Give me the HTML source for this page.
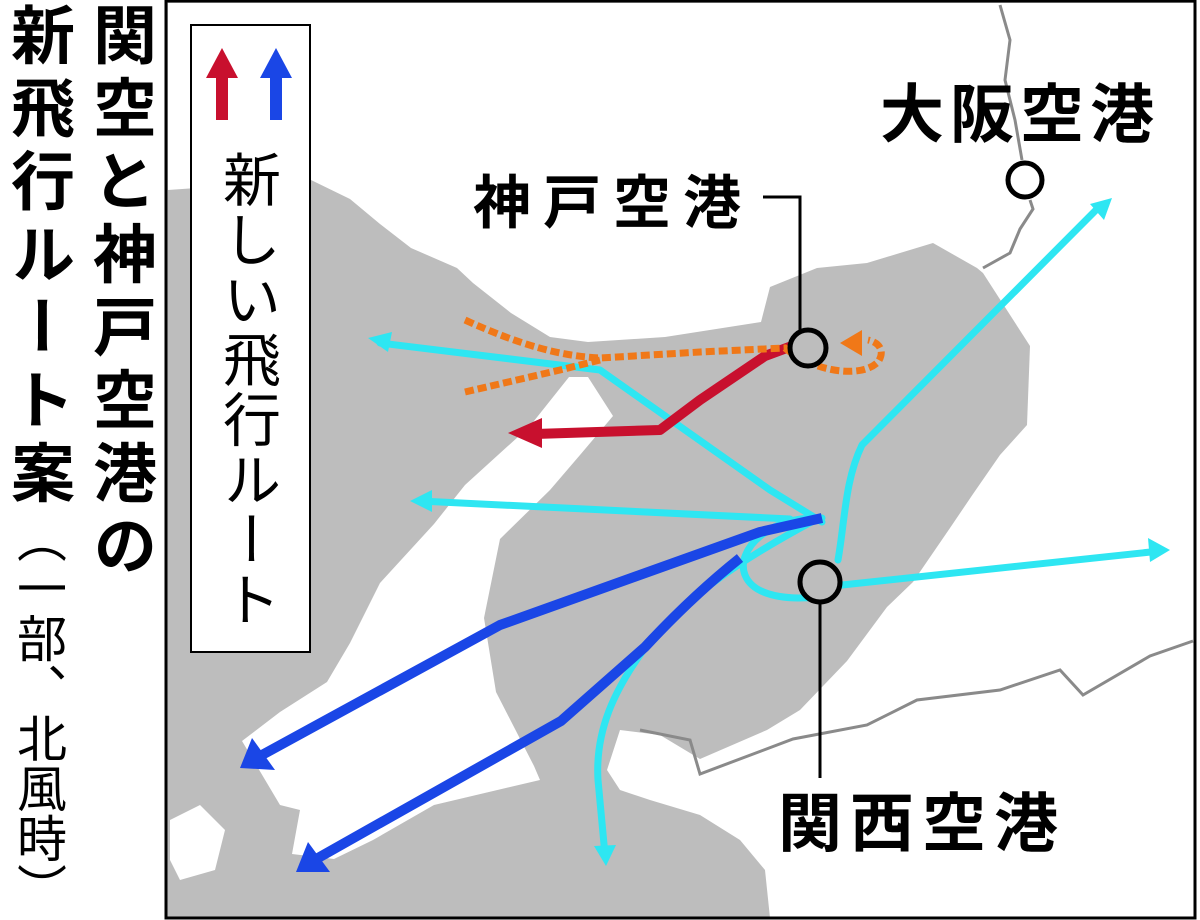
<!DOCTYPE html>
<html><head><meta charset="utf-8"><style>
html,body{margin:0;width:1200px;height:920px;overflow:hidden}
body{background:#fff;position:relative;font-family:"Liberation Sans","Noto Sans CJK JP",sans-serif}
.v{position:absolute;writing-mode:vertical-rl;font-size:64px;line-height:1;letter-spacing:9px;color:#000;white-space:nowrap;height:920px}
</style></head><body>
<div class="v" style="left:88px;top:2px;font-weight:bold">関空と神戸空港の</div>
<div class="v" style="left:6px;top:2px;"><b>新飛行ルート案</b><span style="letter-spacing:0px;font-size:50px;margin-right:6px">（一部、北風時）</span></div>
<svg width="1200" height="920" style="position:absolute;left:0;top:0">
<rect x="166" y="1" width="1029" height="917" fill="#bdbdbd"/>
<polygon fill="#fff" points="168,3 1195,3 1195,918 770,918 765,870 740,840 700,815 650,800 620,790 607,770 620,730 660,735 700,759 767,730 800,710 847,661 887,607 913,582 950,528 973,494 1000,455 1027,425 1030,346 983,273 977,268 933,243 867,263 817,268 770,287 761,322 665,337 588,342 550,337 511,313 473,283 457,268 411,248 380,224 350,199 311,180 168,190"/>
<polygon fill="#fff" points="588,377 613,416 580,455 550,490 500,539 484,618 496,692 534,766 540,780 434,805 373,840 334,859 292,854 300,810 280,805 242,741 280,712 327,682 350,643 380,583 434,524 465,485 530,426 569,377"/>
<polygon fill="#fff" points="170,820 200,805 225,830 215,870 180,880 170,860"/>
<g fill="none" stroke="#8a8a8a" stroke-width="3">
<polyline points="640,730 690,740 700,774 793,739 867,725 917,700 1000,690 1060,670 1083,695 1150,656 1193,641"/>
<polyline points="1000,5 1010,40 1005,80 1015,120 1022,160"/>
<polyline points="1030,200 1033,209 1020,229 1010,253 983,268"/>
</g>
<g fill="none" stroke="#2ee6f2" stroke-width="7" stroke-linejoin="round" stroke-linecap="round">
<path d="M380,343 L600,370 L770,490 L822,522"/>
<path d="M420,501 L790,519"/>
<path d="M838,560 C845,520 845,480 862,445 L1100,206"/>
<path d="M842,585 L1160,551"/>
<path d="M815,520 C740,560 680,600 642,652 C615,690 595,730 598,780 L605,855"/>
<path d="M822,518 C770,515 735,550 745,575 C755,600 800,600 822,596"/>
</g>
<g fill="#2ee6f2">
<polygon points="368,338 392,332 388,352"/>
<polygon points="410,501 432,490 432,512"/>
<polygon points="1112,198 1090,204 1104,220"/>
<polygon points="1170,550 1148,538 1150,562"/>
<polygon points="606,866 594,846 616,845"/>
</g>
<g fill="none" stroke="#1a46e6" stroke-width="10" stroke-linejoin="round">
<path d="M822,518 L760,532 L500,625 L262,755"/>
<path d="M740,558 C700,590 670,620 645,647 L561,721 L318,858"/>
</g>
<g fill="#1a46e6">
<polygon points="240,768 252,738 275,770"/>
<polygon points="296,872 308,842 330,872"/>
</g>
<path d="M792,346 L765,356 L700,400 L660,430 L535,434" fill="none" stroke="#c8102e" stroke-width="10" stroke-linejoin="round"/>
<polygon points="508,433 542,418 542,448" fill="#c8102e"/>
<g fill="none" stroke="#f07818" stroke-width="7" stroke-dasharray="9 4">
<path d="M465,320 C520,345 560,356 600,358 L700,352 L785,348 C810,370 860,380 878,362 C886,350 878,342 868,340"/>
<path d="M465,392 L560,370 L600,360"/>
</g>
<polygon points="840,343 862,330 862,356" fill="#f07818"/>
<g stroke="#000" stroke-width="5" fill="#bdbdbd">
<circle cx="808" cy="348" r="18"/>
<circle cx="820" cy="582" r="20"/>
<circle cx="1025" cy="180" r="17" fill="#fff"/>
</g>
<g fill="none" stroke="#000" stroke-width="3">
<polyline points="763,197 800,197 800,330"/>
<line x1="820" y1="603" x2="820" y2="778"/>
</g>
<g font-family="Liberation Sans, Noto Sans CJK JP, sans-serif" font-weight="bold" fill="#000">
<text x="880" y="137" font-size="64" letter-spacing="6">大阪空港</text>
<text x="473" y="223" font-size="58" letter-spacing="12">神戸空港</text>
<text x="778" y="846" font-size="64" letter-spacing="8">関西空港</text>
</g>
<rect x="191" y="25" width="119" height="627" fill="#fff" stroke="#000" stroke-width="2"/>
<polygon points="222,48 206,78 216,78 216,120 228,120 228,78 238,78" fill="#c8102e"/>
<polygon points="276,48 260,78 270,78 270,120 282,120 282,78 292,78" fill="#1a46e6"/>
<rect x="166" y="1" width="1029" height="917" fill="none" stroke="#000" stroke-width="3"/>
</svg>
<div class="v" style="left:217px;top:150px;font-size:58px;letter-spacing:2px;height:auto">新しい飛行ルート</div>
</body></html>
